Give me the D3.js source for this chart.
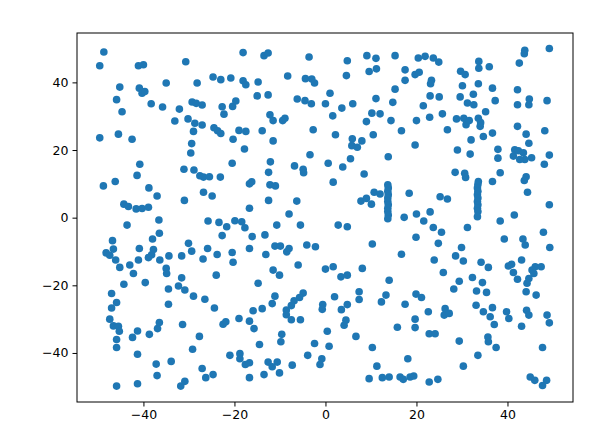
<!DOCTYPE html>
<html>
<head>
<meta charset="utf-8">
<script src="https://cdn.jsdelivr.net/npm/d3@7"></script>
<style>
body{margin:0;background:#fff;}
svg text{font-family:"DejaVu Sans",sans-serif;}
</style>
</head>
<body>
<script>
var width = 610;
var height = 447;

// points, by region
var topLeft = [[-48.7,49.0],[-49.6,44.9],[-41.1,44.9],[-40.0,45.2],[-30.7,46.1],[-18.1,48.8],
	[-45.2,38.6],[-40.9,38.3],[-40.3,36.8],[-39.7,37.3],[-35.0,39.8],[-28.2,39.8],
	[-24.7,41.6],[-23.0,40.8],[-20.8,41.3],[-18.1,40.5],[-17.5,39.3],
	[-45.9,34.9],[-44.7,31.3],[-38.3,33.7],[-35.8,32.7],[-32.1,32.1],[-29.3,34.2],[-28.4,33.8],[-27.1,33.3],
	[-33.1,28.6],[-30.2,29.2],[-28.7,27.9],[-27.1,27.4],[-29.0,25.5],
	[-22.7,32.8],[-22.3,30.6],[-20.4,32.9],[-19.7,34.5],
	[-24.5,26.6],[-23.7,25.7],[-23.0,24.9],[-19.0,25.8],[-17.5,25.5],[-20.3,23.2],[-17.8,20.3],
	[-49.6,23.6],[-45.5,24.7],[-42.5,23.2],[-29.4,21.9],[-29.6,19.1],
	[-40.8,15.8],[-41.4,12.5],[-48.8,9.4],[-46.2,10.7],[-38.8,8.8],[-37.0,6.4],
	[-44.3,4.0],[-43.3,3.3],[-41.6,2.6],[-40.3,2.7],[-38.9,3.1],
	[-31.1,14.3],[-28.9,14.1],[-27.6,12.4],[-26.8,12.0],[-25.5,12.1],[-23.1,12.0],[-20.5,16.1],
	[-26.8,7.5],[-24.9,6.4],[-31.0,5.1]];
var topMid = [[-13.5,47.9],[-12.6,48.7],[-3.6,47.5],[4.8,46.4],[9.1,47.9],[11.1,47.1],[15.3,47.9],[20.4,47.2],
	[-8.3,41.9],[-4.4,41.1],[-3.0,41.0],[-2.4,39.8],[4.6,42.0],[9.6,43.2],[11.2,44.0],[17.5,43.7],[19.7,42.3],[20.6,43.0],
	[17.5,40.6],[15.3,38.0],[-14.8,40.1],[-15.0,36.0],[-12.6,36.3],[1.0,36.8],
	[-6.2,35.1],[-4.5,34.6],[-3.1,33.7],[0.0,33.7],[3.6,32.4],[6.0,33.7],[11.1,35.2],[14.8,34.1],
	[1.6,30.1],[10.2,30.9],[12.0,30.7],[9.0,28.4],[14.4,28.7],[20.0,28.7],
	[-12.2,30.4],[-11.5,28.7],[-9.4,28.7],[-8.9,29.4],[-13.9,25.7],[-11.5,22.7],[-2.7,26.0],
	[2.2,24.5],[5.9,23.3],[5.8,21.3],[7.0,20.8],[8.0,22.7],[10.5,24.5],[16.7,25.7],[19.7,21.5],
	[-3.4,18.6],[5.5,17.4],[13.8,18.0],[-12.1,16.5],[-12.5,13.4],[-6.8,15.3],[-4.9,14.3],[-4.8,13.3],
	[0.6,16.1],[3.8,15.0],[8.5,12.9],
	[-16.7,10.0],[-16.2,10.6],[-12.2,9.7],[-11.0,9.4],[1.7,10.5],[-12.5,5.1],[-6.3,4.9],[-16.7,2.8],[-8.0,1.1],
	[7.8,4.9],[9.0,5.7],[10.1,4.0],[10.7,7.5],[12.0,7.0],[18.4,7.2],[17.3,0.1],[20.0,1.1]];
var columnA = [[13.7,9.7],[13.8,8.8],[13.7,7.8],[13.8,6.8],[13.7,5.8],[13.7,4.8],[13.8,3.8],[13.7,2.8],
	[13.7,1.8],[13.8,0.8],[13.7,-0.3]];
var topRight = [[21.9,47.7],[23.7,47.2],[24.9,46.0],[43.8,49.5],[43.7,48.5],[49.2,50.0],[42.6,45.7],
	[33.7,46.2],[33.7,44.2],[36.0,44.6],[29.7,43.3],[30.7,42.3],
	[23.3,40.6],[23.1,39.6],[30.1,39.0],[33.6,39.6],[36.7,38.3],[42.2,37.8],
	[23.0,36.0],[25.0,35.7],[21.5,33.1],[29.6,35.7],[32.5,36.5],[31.2,33.9],[32.6,33.4],[37.3,34.6],[35.2,31.3],
	[42.2,33.4],[44.8,35.1],[44.7,33.4],[48.7,34.6],
	[22.9,29.7],[25.7,30.7],[28.8,29.2],[30.4,29.4],[30.9,27.5],[31.6,28.7],[33.6,29.4],[34.0,27.0],[34.1,28.1],
	[26.8,26.0],[36.7,25.0],[34.7,24.0],[32.0,23.0],[42.2,27.0],[44.1,24.7],[48.2,25.7],[44.7,22.0],
	[29.0,20.0],[31.8,18.8],[37.9,20.2],[37.9,17.6],[49.2,18.5],[48.1,15.8],
	[28.5,13.4],[30.6,13.1],[30.8,11.9],[38.4,13.3],[36.7,10.7],[44.1,12.1],[43.7,11.0],[44.4,7.5],
	[25.2,6.2],[26.8,5.5],[49.2,3.8],[23.0,1.7],[41.5,0.8]];
var clusterA = [[41.6,20.1],[42.4,19.8],[41.3,18.2],[43.5,19.2],[45.3,17.7],[43.8,17.2],[42.7,17.2]];
var columnB = [[33.6,10.7],[33.5,9.8],[33.4,8.8],[33.5,7.8],[33.4,6.8],[33.5,5.8],[33.4,4.8],[33.5,3.8],
	[33.4,2.8],[33.5,1.8],[33.4,0.3]];
var bottomLeft = [[-36.6,-0.7],[-43.6,-2.2],[-25.8,-1.0],[-23.4,-1.4],[-21.7,-2.7],[-19.9,-0.9],[-18.4,-1.2],[-17.7,-3.0],
	[-22.7,-5.3],[-46.8,-6.8],[-36.5,-4.6],[-38.0,-6.3],[-30.1,-7.6],
	[-46.6,-9.3],[-48.2,-10.4],[-47.4,-11.1],[-46.1,-12.5],[-45.2,-14.7],
	[-40.9,-9.1],[-37.8,-9.4],[-38.2,-11.0],[-38.9,-11.8],[-41.1,-12.5],[-43.0,-14.0],[-42.2,-16.5],
	[-36.4,-12.5],[-34.4,-11.3],[-31.6,-11.3],[-29.4,-9.9],[-26.9,-12.2],[-25.9,-9.1],[-23.8,-10.9],[-20.5,-10.3],[-20.3,-13.2],
	[-35.0,-15.0],[-34.9,-16.5],[-24.0,-17.0],[-31.6,-17.8],
	[-44.3,-19.7],[-39.6,-19.2],[-32.3,-20.2],[-30.9,-21.4],[-34.5,-21.1],[-29.0,-23.2],[-26.5,-24.1],[-24.4,-26.7],
	[-47.0,-22.4],[-45.9,-25.1],[-47.0,-26.7],[-34.5,-25.6],
	[-47.4,-30.0],[-46.6,-32.0],[-45.5,-32.1],[-45.3,-33.6],[-45.9,-36.0],[-45.9,-38.4],
	[-41.3,-33.5],[-42.4,-35.4],[-38.7,-34.5],[-36.9,-32.8],[-36.5,-31.0],[-31.4,-31.6],[-27.7,-35.1],[-29.2,-38.9],
	[-22.5,-31.5],[-21.9,-30.8],[-19.0,-29.8],
	[-41.3,-40.4],[-21.0,-40.7],[-18.8,-40.2],[-18.8,-41.7],[-17.6,-43.4],
	[-37.2,-43.3],[-37.0,-46.7],[-33.9,-42.5],[-27.1,-44.6],[-26.3,-47.3],[-24.7,-46.4],
	[-45.9,-49.8],[-41.3,-49.1],[-31.8,-49.8],[-30.9,-48.4]];
var bottomMid = [[-5.5,-2.2],[-10.7,-2.2],[2.8,-2.2],[4.8,-2.7],[-16.1,-5.6],[-13.3,-5.1],[-16.7,-9.1],[-13.1,-10.9],
	[-11.1,-8.4],[-9.9,-8.4],[-8.5,-10.1],[-8.0,-9.1],[-4.1,-8.1],[-2.2,-8.6],[10.3,-7.8],[16.7,-10.8],[19.9,-5.8],
	[-6.0,-14.0],[-11.5,-15.5],[-10.1,-17.0],[0.0,-15.2],[1.7,-14.5],[3.4,-17.5],[4.8,-17.0],[8.1,-15.0],
	[-14.8,-19.4],[14.0,-18.5],[-11.1,-23.2],[-11.7,-25.4],[-15.9,-27.5],[-13.9,-26.9],[-16.7,-30.6],[-15.7,-32.8],
	[-0.6,-25.7],[-0.7,-27.1],[2.0,-23.4],[4.8,-25.7],[3.5,-27.2],[4.5,-30.3],[4.1,-31.8],[7.4,-21.9],[7.4,-24.2],
	[13.3,-22.9],[12.3,-24.9],[17.5,-25.6],[19.9,-22.6],[19.7,-30.0],[19.7,-32.5],[15.8,-32.4],
	[0.4,-33.6],[6.7,-35.1],[-9.6,-34.5],[-9.8,-36.7],[-14.5,-37.5],[-2.4,-37.2],[0.8,-38.0],[10.3,-38.4],
	[-16.7,-42.9],[-12.6,-42.7],[-10.6,-42.7],[-11.7,-44.1],[-10.1,-45.9],[-13.5,-46.4],[-16.7,-47.3],[-7.3,-43.6],
	[-3.9,-40.7],[-0.8,-41.7],[-1.2,-43.4],[11.3,-43.9],[18.1,-41.7],
	[9.6,-47.6],[12.5,-47.3],[14.0,-47.1],[16.4,-47.1],[17.1,-47.8],[18.6,-47.1],[19.4,-46.8]];
var clusterC = [[-4.9,-22.3],[-5.7,-23.6],[-6.9,-24.6],[-7.5,-26.0],[-8.6,-27.3],[-8.6,-28.7],[-7.5,-30.2],[-5.5,-30.2]];
var bottomRight = [[21.6,-1.0],[38.4,-1.0],[23.7,-2.9],[25.5,-4.3],[31.2,-2.9],[24.8,-7.6],[39.3,-6.3],[43.4,-6.3],[43.9,-8.1],[47.9,-4.3],[49.3,-8.8],
	[29.9,-8.8],[28.6,-11.3],[30.3,-12.8],[23.9,-12.5],[25.9,-16.2],[34.2,-13.2],[35.8,-14.7],[32.3,-17.7],[34.5,-19.2],[29.4,-18.8],
	[28.2,-21.1],[33.2,-21.7],[35.4,-22.1],[43.1,-12.5],[40.2,-14.3],[40.9,-13.8],[41.3,-16.2],[42.2,-18.2],
	[21.1,-23.6],[22.6,-27.8],[22.8,-34.3],[24.1,-34.3],[26.3,-26.9],[26.1,-28.8],[27.2,-28.3],
	[33.1,-25.9],[34.7,-27.8],[36.7,-26.6],[36.2,-29.3],[37.1,-31.6],[39.8,-27.8],[40.3,-29.8],[43.1,-32.1],
	[44.2,-27.4],[44.7,-28.8],[48.7,-28.8],[49.2,-31.1],[29.4,-36.5],[35.7,-35.3],[35.8,-36.7],[37.5,-38.4],[33.5,-40.7],[47.7,-38.4],
	[30.3,-43.9],[22.8,-48.6],[24.7,-47.8],[45.0,-47.1],[46.0,-48.1],[48.6,-48.1],[47.7,-49.6]];
var clusterB = [[46.1,-14.5],[47.4,-14.5],[45.4,-15.5],[45.8,-16.5],[44.7,-18.0],[44.3,-19.4],[44.1,-21.9],[46.3,-22.9]];

var xTicks = [-40,-20,0,20,40];
var yTicks = [-40,-20,0,20,40];

var points = [].concat(topLeft,topMid,columnA,topRight,clusterA,columnB,bottomLeft,bottomMid,clusterC,bottomRight,clusterB);

var padLeft = 77, padRight = 573, padTop = 33, padBottom = 402;

var canvas = d3.select('body')
				.append('svg')
				.attr('width',width)
				.attr('height',height);

var x = d3.scaleLinear().domain([-54.6,54.4]).range([padLeft,padRight]);
var y = d3.scaleLinear().domain([-54.5,54.6]).range([padBottom,padTop]);

canvas.append('g')
		.selectAll('circle')
		.data(points)
		.enter()
		.append('circle')
		.attr('cx',(d)=>x(d[0]))
		.attr('cy',(d)=>y(d[1]))
		.attr('r',3.8)
		.attr('fill','#1f77b4');

var xAxis = canvas.append('g')
		.attr('transform','translate(0,'+padBottom+')')
		.call(d3.axisBottom(x).tickValues(xTicks).tickSize(4.5).tickPadding(4));
var yAxis = canvas.append('g')
		.attr('transform','translate('+padLeft+',0)')
		.call(d3.axisLeft(y).tickValues(yTicks).tickSize(4.5).tickPadding(4));

[xAxis,yAxis].forEach(function(a){
	a.select('.domain').remove();
	a.selectAll('text').attr('font-size',12.5).attr('fill','#000').attr('font-family','DejaVu Sans');
	a.selectAll('line').attr('stroke','#000');
});

canvas.append('rect')
		.attr('x',padLeft)
		.attr('y',padTop)
		.attr('width',padRight-padLeft)
		.attr('height',padBottom-padTop)
		.attr('fill','none')
		.attr('stroke','#000')
		.attr('stroke-width',1);
</script>
</body>
</html>
